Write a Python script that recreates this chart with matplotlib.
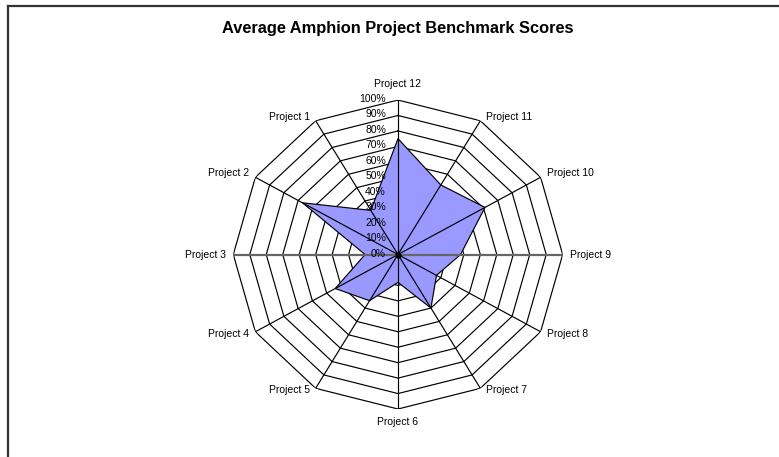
import numpy as np
import matplotlib.pyplot as plt
from matplotlib.lines import Line2D

plt.rcParams['font.family'] = ['Liberation Sans', 'DejaVu Sans']

# categories go clockwise from the top
projects = ['Project 12', 'Project 11', 'Project 10', 'Project 9', 'Project 8',
            'Project 7', 'Project 6', 'Project 5', 'Project 4', 'Project 3',
            'Project 2', 'Project 1']
scores = [0.75, 0.52, 0.61, 0.38, 0.27, 0.40, 0.18, 0.345, 0.44, 0.20, 0.67, 0.33]
rings = [0.1, 0.2, 0.3, 0.4, 0.5, 0.6, 0.7, 0.8, 0.9, 1.0]
ring_labels = ['0%', '10%', '20%', '30%', '40%', '50%', '60%', '70%', '80%', '90%', '100%']
title = 'Average Amphion Project Benchmark Scores'

fig = plt.figure(figsize=(7.79, 4.57), dpi=100)
ax = fig.add_axes([0.2995, 0.105, 0.4228, 0.6761], projection='polar')
ax.set_aspect('auto')
ax.set_theta_zero_location('N')
ax.set_theta_direction(-1)
ax.set_ylim(0, 1)
ax.grid(False)
ax.spines['polar'].set_visible(False)
ax.set_xticks([])
ax.set_yticks([])
ax.patch.set_alpha(0)

n = len(projects)
theta = np.arange(n) * 2 * np.pi / n
closed = np.append(theta, theta[0])

# polygon rings
for r in rings:
    ax.plot(closed, [r] * (n + 1), color='black', lw=0.85, zorder=1)

# data area
vals = np.append(scores, scores[0])
ax.fill(closed, vals, facecolor='#9999ff', edgecolor='black', lw=0.85, zorder=2)

# spokes
for i, t in enumerate(theta):
    if i in (3, 9):
        ax.plot([t, t], [0, 1], color='#666666', lw=1.6, zorder=3)
    else:
        ax.plot([t, t], [0, 1], color='black', lw=0.85, zorder=3)
ax.plot([0], [0], 'o', color='black', ms=3.5, zorder=4)

# category labels
for t, name in zip(theta, projects):
    s, c = np.sin(t), np.cos(t)
    if abs(s) < 0.1:
        ha, dx, dy = 'center', 0, (16 if c > 0 else -13)
    else:
        ha = 'left' if s > 0 else 'right'
        dx = np.sign(s) * (7 if abs(c) < 0.1 else 6)
        dy = 0 if abs(c) < 0.1 else (4 if c > 0 else -2)
    ax.annotate(name, (t, 1.0), xytext=(dx, dy), textcoords='offset pixels',
                ha=ha, va='center', fontsize=7.5, annotation_clip=False)

# value axis labels
for r, lab in zip([0] + rings, ring_labels):
    ax.annotate(lab, (0, r), xytext=(-12, 1), textcoords='offset pixels',
                ha='right', va='center', fontsize=7.5, annotation_clip=False)

fig.text(0.511, 0.937, title, ha='center', va='center', fontsize=11.8, fontweight='bold')

# chart area border (left and top edges)
fig.add_artist(Line2D([7.5 / 779, 7.5 / 779], [0, 1 - 5.5 / 457], color='#333333', lw=1.6))
fig.add_artist(Line2D([7.5 / 779, 1], [1 - 5.5 / 457, 1 - 5.5 / 457], color='#333333', lw=1.6))

fig.savefig('out.png', dpi=100, facecolor='white')
